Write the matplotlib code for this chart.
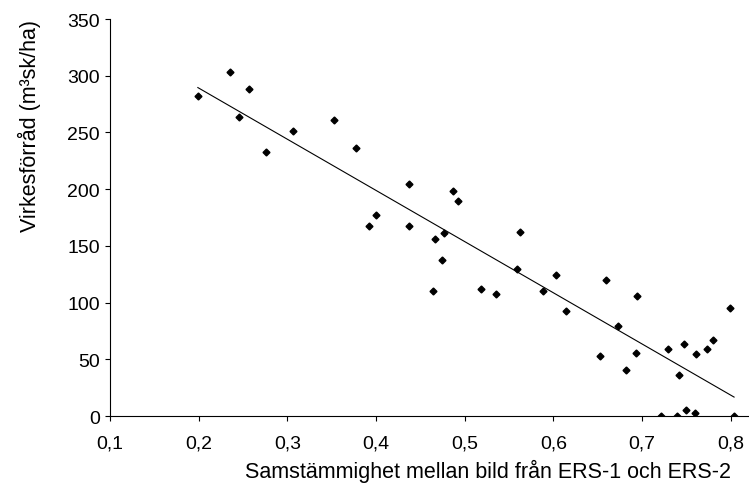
import numpy as np
import matplotlib
matplotlib.use("Agg")
import matplotlib.pyplot as plt

plt.rcParams['font.family'] = ['Liberation Sans', 'DejaVu Sans']

# Samstämmighet (coherence) vs virkesförråd
coherence = [0.199, 0.235, 0.257, 0.245, 0.276, 0.306, 0.353, 0.377, 0.400, 0.392,
             0.437, 0.437, 0.487, 0.492, 0.467, 0.477, 0.474, 0.464, 0.519, 0.535,
             0.563, 0.559, 0.603, 0.588, 0.614, 0.660, 0.694, 0.673, 0.653, 0.682,
             0.693, 0.729, 0.747, 0.742, 0.761, 0.773, 0.780, 0.799, 0.722, 0.740,
             0.750, 0.760, 0.804]
volume = [282, 303, 288, 264, 233, 251, 261, 236, 177, 168,
          205, 168, 198, 190, 156, 161, 138, 110, 112, 108,
          162, 130, 124, 110, 93, 120, 106, 79, 53, 41,
          56, 59, 64, 36, 55, 59, 67, 95, 0, 0,
          5, 3, 0]
xticklabels = ["0,1", "0,2", "0,3", "0,4", "0,5", "0,6", "0,7", "0,8"]

x = np.array(coherence)
y = np.array(volume)

fig = plt.figure(figsize=(7.49, 4.89), dpi=100)
ax = fig.add_axes([0.147, 0.147, 0.852, 0.812])

ax.plot(x, y, linestyle='none', marker='D', markersize=3.5, color='black')

# linear trend
k, m = np.polyfit(x, y, 1)
xs = np.array([x.min(), x.max()])
ax.plot(xs, k * xs + m, color='black', linewidth=0.8)

ax.set_xlim(0.1, 0.82)
ax.set_ylim(0, 350)
ax.set_xticks(np.arange(0.1, 0.81, 0.1))
ax.set_xticklabels(xticklabels)
ax.set_yticks(range(0, 351, 50))

ax.spines['top'].set_visible(False)
ax.spines['right'].set_visible(False)
ax.tick_params(direction='out', length=3.5, labelsize=14)
ax.tick_params(axis='x', pad=10)
ax.tick_params(axis='y', pad=4)

ax.set_xlabel("Samstämmighet mellan bild från ERS-1 och ERS-2", fontsize=15.5,
              x=0.592, ha='center', labelpad=5)
ax.set_ylabel("Virkesförråd (m³sk/ha)", fontsize=15.5, loc='top', labelpad=19)

fig.savefig("out.png")
